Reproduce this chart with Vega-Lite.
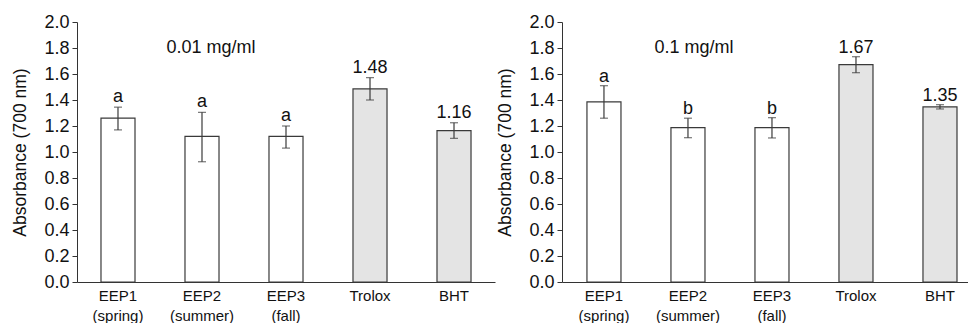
{
  "$schema": "https://vega.github.io/schema/vega-lite/v6.json",
  "padding": {"left": 11, "top": 13, "right": 0, "bottom": 0},
  "autosize": {"type": "pad"},
  "spacing": 1,
  "config": {
    "font": "Liberation Sans",
    "view": {"stroke": null},
    "axis": {"domainColor": "#333", "tickColor": "#333", "labelColor": "#111", "titleColor": "#111", "grid": false, "titleFontWeight": "normal"},
    "axisY": {"labelOverlap": false, "tickSize": 5, "labelPadding": 3, "labelFontSize": 18, "titleFontSize": 17.5, "titlePadding": 14},
    "axisX": {"labelAngle": 0, "ticks": false, "labelPadding": 6, "labelFontSize": 15, "labelLineHeight": 20}
  },
  "datasets": {
    "low": [
      {"cat": "EEP1 (spring)", "kind": "extract", "val": 1.26, "lo": 1.17, "hi": 1.345, "label": "a"},
      {"cat": "EEP2 (summer)", "kind": "extract", "val": 1.12, "lo": 0.925, "hi": 1.305, "label": "a"},
      {"cat": "EEP3 (fall)", "kind": "extract", "val": 1.12, "lo": 1.03, "hi": 1.2, "label": "a"},
      {"cat": "Trolox", "kind": "standard", "val": 1.485, "lo": 1.4, "hi": 1.572, "label": "1.48"},
      {"cat": "BHT", "kind": "standard", "val": 1.165, "lo": 1.105, "hi": 1.225, "label": "1.16"}
    ],
    "high": [
      {"cat": "EEP1 (spring)", "kind": "extract", "val": 1.385, "lo": 1.26, "hi": 1.51, "label": "a"},
      {"cat": "EEP2 (summer)", "kind": "extract", "val": 1.187, "lo": 1.11, "hi": 1.26, "label": "b"},
      {"cat": "EEP3 (fall)", "kind": "extract", "val": 1.187, "lo": 1.108, "hi": 1.264, "label": "b"},
      {"cat": "Trolox", "kind": "standard", "val": 1.672, "lo": 1.61, "hi": 1.733, "label": "1.67"},
      {"cat": "BHT", "kind": "standard", "val": 1.347, "lo": 1.331, "hi": 1.364, "label": "1.35"}
    ]
  },
  "hconcat": [
    {
      "width": 418,
      "height": 260,
      "layer": [
        {
          "data": {"name": "low"},
          "mark": {"type": "bar", "stroke": "#3a3a3a", "strokeWidth": 1.2},
          "encoding": {
            "x": {"field": "cat", "type": "nominal", "sort": null,
              "scale": {"paddingInner": 0.595, "paddingOuter": 0.2855, "align": 0.5},
              "axis": {"title": null, "labelExpr": "split(datum.label, ' ')"}},
            "y": {"field": "val", "type": "quantitative",
              "scale": {"domain": [0, 2], "nice": false},
              "axis": {"title": "Absorbance (700 nm)", "values": [0, 0.2, 0.4, 0.6, 0.8, 1.0, 1.2, 1.4, 1.6, 1.8, 2.0], "labelOverlap": false, "format": ".1f"}},
            "fill": {"field": "kind", "type": "nominal", "scale": {"domain": ["extract", "standard"], "range": ["#ffffff", "#e4e4e4"]}, "legend": null}
          }
        },
        {
          "data": {"name": "low"},
          "mark": {"type": "rule", "color": "#3a3a3a", "strokeWidth": 1.2},
          "encoding": {"x": {"field": "cat", "type": "nominal", "sort": null, "axis": {"title": null, "labelExpr": "split(datum.label, ' ')"}}, "y": {"field": "lo", "type": "quantitative", "axis": {"title": "Absorbance (700 nm)", "values": [0, 0.2, 0.4, 0.6, 0.8, 1.0, 1.2, 1.4, 1.6, 1.8, 2.0], "labelOverlap": false, "format": ".1f"}}, "y2": {"field": "hi"}}
        },
        {
          "data": {"name": "low"},
          "mark": {"type": "tick", "color": "#3a3a3a", "size": 8, "thickness": 1.2},
          "encoding": {"x": {"field": "cat", "type": "nominal", "sort": null, "axis": {"title": null, "labelExpr": "split(datum.label, ' ')"}}, "y": {"field": "lo", "type": "quantitative", "axis": {"title": "Absorbance (700 nm)", "values": [0, 0.2, 0.4, 0.6, 0.8, 1.0, 1.2, 1.4, 1.6, 1.8, 2.0], "labelOverlap": false, "format": ".1f"}}}
        },
        {
          "data": {"name": "low"},
          "mark": {"type": "tick", "color": "#3a3a3a", "size": 8, "thickness": 1.2},
          "encoding": {"x": {"field": "cat", "type": "nominal", "sort": null, "axis": {"title": null, "labelExpr": "split(datum.label, ' ')"}}, "y": {"field": "hi", "type": "quantitative", "axis": {"title": "Absorbance (700 nm)", "values": [0, 0.2, 0.4, 0.6, 0.8, 1.0, 1.2, 1.4, 1.6, 1.8, 2.0], "labelOverlap": false, "format": ".1f"}}}
        },
        {
          "data": {"name": "low"},
          "mark": {"type": "text", "baseline": "alphabetic", "dy": -5, "fontSize": 18, "fontWeight": "normal", "color": "#111"},
          "encoding": {"x": {"field": "cat", "type": "nominal", "sort": null, "axis": {"title": null, "labelExpr": "split(datum.label, ' ')"}}, "y": {"field": "hi", "type": "quantitative", "axis": {"title": "Absorbance (700 nm)", "values": [0, 0.2, 0.4, 0.6, 0.8, 1.0, 1.2, 1.4, 1.6, 1.8, 2.0], "labelOverlap": false, "format": ".1f"}}, "text": {"field": "label"}}
        },
        {
          "data": {"values": [{"note": "0.01 mg/ml"}]},
          "mark": {"type": "text", "baseline": "alphabetic", "fontSize": 18, "fontWeight": "normal", "color": "#111", "dx": 9},
          "encoding": {"x": {"datum": "EEP2 (summer)", "type": "nominal", "axis": {"title": null, "labelExpr": "split(datum.label, ' ')"}}, "y": {"datum": 1.764, "type": "quantitative", "axis": {"title": "Absorbance (700 nm)", "values": [0, 0.2, 0.4, 0.6, 0.8, 1.0, 1.2, 1.4, 1.6, 1.8, 2.0], "labelOverlap": false, "format": ".1f"}}, "text": {"field": "note"}}
        }
      ]
    },
    {
      "width": 406,
      "height": 260,
      "layer": [
        {
          "data": {"name": "high"},
          "mark": {"type": "bar", "stroke": "#3a3a3a", "strokeWidth": 1.2},
          "encoding": {
            "x": {"field": "cat", "type": "nominal", "sort": null,
              "scale": {"paddingInner": 0.595, "paddingOuter": 0.214, "align": 0.694},
              "axis": {"title": null, "labelExpr": "split(datum.label, ' ')"}},
            "y": {"field": "val", "type": "quantitative",
              "scale": {"domain": [0, 2], "nice": false},
              "axis": {"title": "Absorbance (700 nm)", "values": [0, 0.2, 0.4, 0.6, 0.8, 1.0, 1.2, 1.4, 1.6, 1.8, 2.0], "labelOverlap": false, "format": ".1f"}},
            "fill": {"field": "kind", "type": "nominal", "scale": {"domain": ["extract", "standard"], "range": ["#ffffff", "#e4e4e4"]}, "legend": null}
          }
        },
        {
          "data": {"name": "high"},
          "mark": {"type": "rule", "color": "#3a3a3a", "strokeWidth": 1.2},
          "encoding": {"x": {"field": "cat", "type": "nominal", "sort": null, "axis": {"title": null, "labelExpr": "split(datum.label, ' ')"}}, "y": {"field": "lo", "type": "quantitative", "axis": {"title": "Absorbance (700 nm)", "values": [0, 0.2, 0.4, 0.6, 0.8, 1.0, 1.2, 1.4, 1.6, 1.8, 2.0], "labelOverlap": false, "format": ".1f"}}, "y2": {"field": "hi"}}
        },
        {
          "data": {"name": "high"},
          "mark": {"type": "tick", "color": "#3a3a3a", "size": 8, "thickness": 1.2},
          "encoding": {"x": {"field": "cat", "type": "nominal", "sort": null, "axis": {"title": null, "labelExpr": "split(datum.label, ' ')"}}, "y": {"field": "lo", "type": "quantitative", "axis": {"title": "Absorbance (700 nm)", "values": [0, 0.2, 0.4, 0.6, 0.8, 1.0, 1.2, 1.4, 1.6, 1.8, 2.0], "labelOverlap": false, "format": ".1f"}}}
        },
        {
          "data": {"name": "high"},
          "mark": {"type": "tick", "color": "#3a3a3a", "size": 8, "thickness": 1.2},
          "encoding": {"x": {"field": "cat", "type": "nominal", "sort": null, "axis": {"title": null, "labelExpr": "split(datum.label, ' ')"}}, "y": {"field": "hi", "type": "quantitative", "axis": {"title": "Absorbance (700 nm)", "values": [0, 0.2, 0.4, 0.6, 0.8, 1.0, 1.2, 1.4, 1.6, 1.8, 2.0], "labelOverlap": false, "format": ".1f"}}}
        },
        {
          "data": {"name": "high"},
          "mark": {"type": "text", "baseline": "alphabetic", "dy": -4, "fontSize": 18, "fontWeight": "normal", "color": "#111"},
          "encoding": {"x": {"field": "cat", "type": "nominal", "sort": null, "axis": {"title": null, "labelExpr": "split(datum.label, ' ')"}}, "y": {"field": "hi", "type": "quantitative", "axis": {"title": "Absorbance (700 nm)", "values": [0, 0.2, 0.4, 0.6, 0.8, 1.0, 1.2, 1.4, 1.6, 1.8, 2.0], "labelOverlap": false, "format": ".1f"}}, "text": {"field": "label"}}
        },
        {
          "data": {"values": [{"note": "0.1 mg/ml"}]},
          "mark": {"type": "text", "baseline": "alphabetic", "fontSize": 18, "fontWeight": "normal", "color": "#111", "dx": 6},
          "encoding": {"x": {"datum": "EEP2 (summer)", "type": "nominal", "axis": {"title": null, "labelExpr": "split(datum.label, ' ')"}}, "y": {"datum": 1.764, "type": "quantitative", "axis": {"title": "Absorbance (700 nm)", "values": [0, 0.2, 0.4, 0.6, 0.8, 1.0, 1.2, 1.4, 1.6, 1.8, 2.0], "labelOverlap": false, "format": ".1f"}}, "text": {"field": "note"}}
        }
      ]
    }
  ]
}
